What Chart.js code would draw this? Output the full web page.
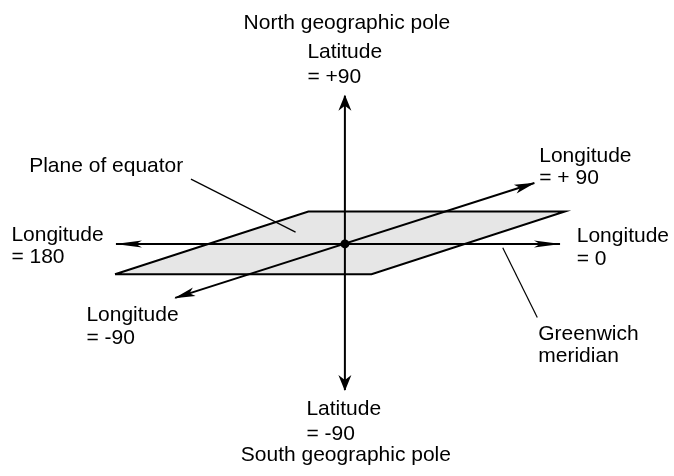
<!DOCTYPE html>
<html>
<head>
<meta charset="utf-8">
<script src="https://cdn.jsdelivr.net/npm/chart.js@4/dist/chart.umd.min.js"></script>
<style>
  html, body { margin: 0; padding: 0; background: #ffffff; }
  #wrap { width: 674px; height: 476px; }
</style>
</head>
<body>
<div id="wrap"><canvas id="c" width="674" height="476"></canvas></div>
<script>
// Diagram coordinates: origin at the centre of the globe, y up.
const latitudeAxis   = [{x: 0, y: 151}, {x: 0, y: -149}];
const greenwichAxis  = [{x: -232, y: 0}, {x: 218, y: 0}];
const longitude90Axis = [{x: -172, y: -55}, {x: 192, y: 62}];
const equatorPlane   = [{x: -233, y: -31}, {x: -37, y: 33}, {x: 223, y: 33}, {x: 27, y: -31}, {x: -233, y: -31}];
const planePointer   = [{x: -156, y: 66}, {x: -50, y: 12}];
const meridianPointer = [{x: 160, y: -4}, {x: 195, y: -75}];
const centrePoint    = [{x: 0, y: 0}];

const labelTexts = [
  ["North geographic pole"],
  ["Latitude", "= +90"],
  ["Latitude", "= -90"],
  ["South geographic pole"],
  ["Plane of equator"],
  ["Longitude", "= 180"],
  ["Longitude", "= + 90"],
  ["Longitude", "= 0"],
  ["Longitude", "= -90"],
  ["Greenwich", "meridian"]
];
const labelAnchors = [
  {x: 2, y: 219, align: "center", gap: 25},
  {x: -38, y: 189, align: "left", gap: 25},
  {x: -39, y: -174, align: "left", gap: 25},
  {x: 1, y: -221, align: "center", gap: 25},
  {x: -320, y: 73, align: "left", gap: 23},
  {x: -338, y: 3, align: "left", gap: 22},
  {x: 197, y: 83, align: "left", gap: 22},
  {x: 235, y: 2, align: "left", gap: 23},
  {x: -262, y: -79, align: "left", gap: 23},
  {x: 196, y: -98, align: "left", gap: 22}
];

const arrowPlugin = {
  id: "arrowheads",
  afterDatasetsDraw(chart) {
    const ctx = chart.ctx;
    chart.data.datasets.forEach((ds, i) => {
      if (!ds.arrowHead) return;
      const h = ds.arrowHead;
      const pts = chart.getDatasetMeta(i).data;
      const ends = [[pts[1], pts[0]], [pts[pts.length - 2], pts[pts.length - 1]]];
      ends.forEach(([from, tip]) => {
        const ang = Math.atan2(tip.y - from.y, tip.x - from.x);
        ctx.save();
        ctx.translate(tip.x, tip.y);
        ctx.rotate(ang);
        ctx.beginPath();
        ctx.moveTo(1, 0);
        ctx.lineTo(-h.len, -h.half);
        ctx.lineTo(-h.notch, 0);
        ctx.lineTo(-h.len, h.half);
        ctx.closePath();
        ctx.fillStyle = "#000";
        ctx.fill();
        ctx.restore();
      });
    });
  }
};

const labelPlugin = {
  id: "labels",
  afterDraw(chart) {
    const ctx = chart.ctx;
    const xs = chart.scales.x, ys = chart.scales.y;
    ctx.save();
    ctx.fillStyle = "#000";
    ctx.font = "21px 'Liberation Sans', Arial, sans-serif";
    ctx.textBaseline = "alphabetic";
    labelTexts.forEach((lines, i) => {
      const a = labelAnchors[i];
      ctx.textAlign = a.align;
      const px = xs.getPixelForValue(a.x);
      const py = ys.getPixelForValue(a.y);
      lines.forEach((t, k) => ctx.fillText(t, px, py + k * a.gap));
    });
    ctx.restore();
  }
};

new Chart(document.getElementById("c"), {
  type: "scatter",
  data: {
    datasets: [
      { data: centrePoint, pointRadius: 4.5, pointBackgroundColor: "#000", pointBorderWidth: 0, showLine: false, order: 0 },
      { data: latitudeAxis, showLine: true, borderColor: "#000", borderWidth: 2, pointRadius: 0, arrowHead: {len: 15, half: 6.5, notch: 10}, order: 1 },
      { data: greenwichAxis, showLine: true, borderColor: "#000", borderWidth: 2, pointRadius: 0, arrowHead: {len: 26, half: 3.5, notch: 20}, order: 1 },
      { data: longitude90Axis, showLine: true, borderColor: "#000", borderWidth: 2, pointRadius: 0, arrowHead: {len: 20, half: 4.5, notch: 15}, order: 1 },
      { data: planePointer, showLine: true, borderColor: "#000", borderWidth: 1.2, pointRadius: 0, order: 1 },
      { data: meridianPointer, showLine: true, borderColor: "#000", borderWidth: 1.2, pointRadius: 0, order: 1 },
      { data: equatorPlane, showLine: true, borderColor: "#000", borderWidth: 2, backgroundColor: "#e6e6e6", fill: "shape", pointRadius: 0, order: 5, tension: 0 }
    ]
  },
  options: {
    responsive: false,
    animation: false,
    events: [],
    layout: { padding: 0 },
    plugins: { legend: { display: false }, tooltip: { enabled: false }, filler: { propagate: false } },
    scales: {
      x: { type: "linear", min: -345, max: 329, display: false },
      y: { type: "linear", min: -232, max: 244, display: false }
    }
  },
  plugins: [arrowPlugin, labelPlugin]
});
</script>
</body>
</html>
